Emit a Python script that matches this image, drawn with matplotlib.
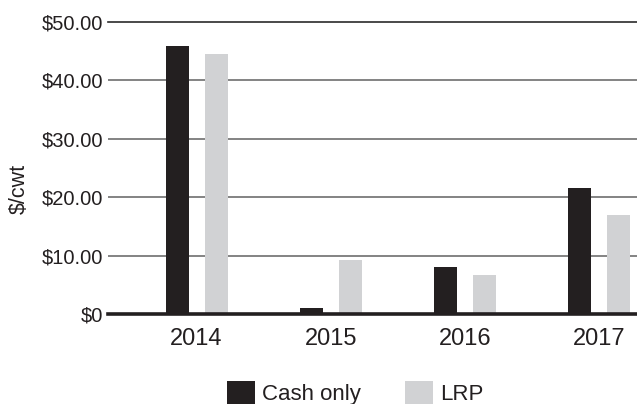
import matplotlib.pyplot as plt
import numpy as np

plt.rcParams['font.family'] = ['Liberation Sans', 'DejaVu Sans']

years = ['2014', '2015', '2016', '2017']
cash_only = [45.9, 1.0, 8.0, 21.6]
lrp = [44.5, 9.2, 6.7, 17.0]
yticks = [0, 10, 20, 30, 40, 50]
ytick_labels = ['$0', '$10.00', '$20.00', '$30.00', '$40.00', '$50.00']

fig = plt.figure(figsize=(6.37, 4.04), dpi=100)
ax = fig.add_axes([108 / 637, 1 - 314 / 404, 1 - 108 / 637, 292 / 404])

pos = np.arange(len(years))
width = 0.172
ax.bar(pos - 0.145, cash_only, width, color='#231f20', label='Cash only', zorder=3)
ax.bar(pos + 0.145, lrp, width, color='#d1d2d4', label='LRP', zorder=3)

# gridlines
for v in yticks[1:-1]:
    ax.axhline(v, color='#7a7a7a', lw=1.3, zorder=1)
ax.axhline(50, color='#2a2a2a', lw=1.2, zorder=1, clip_on=False)
ax.axhline(0, color='#231f20', lw=2.6, zorder=4, clip_on=False)

ax.set_xlim(-0.66, 3.28)
ax.set_ylim(0, 50)
ax.set_xticks(pos)
ax.set_xticklabels(years, fontsize=17, color='#231f20')
ax.set_yticks(yticks)
ax.set_yticklabels(ytick_labels, fontsize=14.5, color='#231f20')
ax.tick_params(length=0)
ax.tick_params(axis='y', pad=3.5)
ax.tick_params(axis='x', pad=10)
for s in ax.spines.values():
    s.set_visible(False)

ax.set_ylabel('$/cwt', fontsize=15.5, color='#231f20')
ax.yaxis.set_label_coords(-0.148, 0.428)

fig.legend(loc='center', bbox_to_anchor=(0.558, 0.027), ncol=2, frameon=False,
           fontsize=16, handlelength=1.25, handleheight=1.3, handletextpad=0.33,
           columnspacing=2.0, labelcolor='#231f20')

fig.savefig('out.png', dpi=100)
